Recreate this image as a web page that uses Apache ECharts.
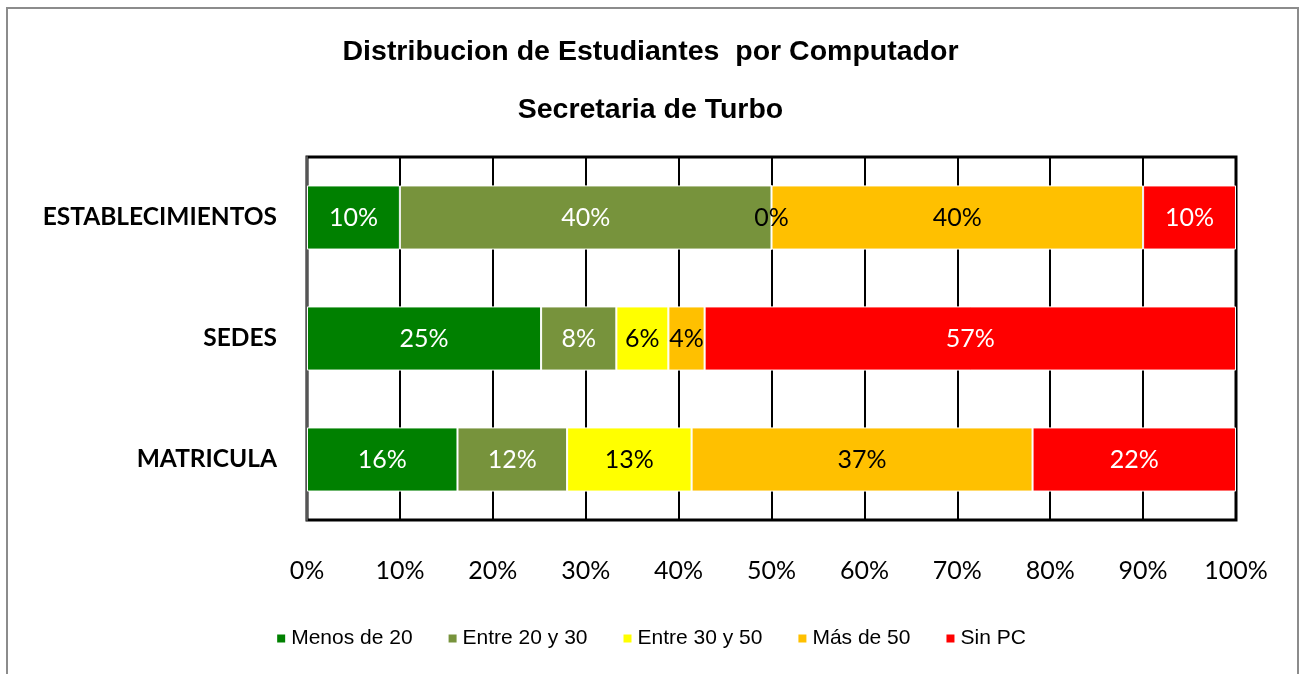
<!DOCTYPE html>
<html>
<head>
<meta charset="utf-8">
<script src="https://cdn.jsdelivr.net/npm/echarts@6/dist/echarts.min.js"></script>
<style>
  html, body { margin: 0; padding: 0; background: #fff; }
  #chart { width: 1301px; height: 674px; }
</style>
</head>
<body>
<div id="chart"></div>
<script>
// categorias (de arriba hacia abajo)
var categorias = ["ESTABLECIMIENTOS", "SEDES", "MATRICULA"];
var ejeX = [0, 10, 20, 30, 40, 50, 60, 70, 80, 90, 100];

// porcentajes por serie
var menos20 = [10, 25.2, 16.2];
var entre20y30 = [40, 8.1, 11.8];
var entre30y50 = [0, 5.6, 13.4];
var masDe50 = [40, 3.9, 36.7];
var sinPC = [10, 57.2, 21.9];

var chart = echarts.init(document.getElementById("chart"));

function serie(nombre, datos, color, colorTexto) {
  return {
    name: nombre,
    type: "bar",
    stack: "total",
    barWidth: "53%",
    data: datos,
    itemStyle: { color: color, borderColor: "#fff", borderWidth: 1 },
    label: {
      show: true,
      position: "inside",
      color: colorTexto,
      fontFamily: "Lato",
      fontSize: 25,
      formatter: function (p) { return Math.round(p.value) + "%"; }
    }
  };
}

var estiloTitulo = { fontFamily: "Liberation Sans", fontWeight: "bold", fontSize: 28.5, color: "#000" };

var option = {
  animation: false,
  title: [
    {
      text: "Distribucion de Estudiantes  por Computador",
      left: "center",
      top: 33,
      textStyle: estiloTitulo
    },
    {
      text: "Secretaria de Turbo",
      left: "center",
      top: 91,
      textStyle: estiloTitulo
    }
  ],
  graphic: [
    {
      type: "rect",
      shape: { x: 7, y: 8, width: 1291, height: 720 },
      style: { fill: "none", stroke: "#8c8c8c", lineWidth: 2 },
      silent: true
    }
  ],
  legend: {
    bottom: 20,
    left: "center",
    itemWidth: 10,
    itemHeight: 10,
    itemGap: 34,
    icon: "rect",
    textStyle: { fontFamily: "Liberation Sans", fontSize: 21, color: "#000" },
    data: ["Menos de 20", "Entre 20 y 30", "Entre 30 y 50", "Más de 50", "Sin PC"]
  },
  grid: {
    left: 307,
    right: 65,
    top: 157,
    bottom: 154,
    show: true,
    borderColor: "#000",
    borderWidth: 3
  },
  xAxis: {
    type: "value",
    min: ejeX[0],
    max: ejeX[ejeX.length - 1],
    interval: 10,
    axisLine: { show: false },
    axisTick: { show: false },
    splitLine: { show: true, lineStyle: { color: "#000", width: 2 } },
    axisLabel: {
      margin: 38,
      fontFamily: "Lato",
      fontSize: 25,
      color: "#000",
      formatter: "{value}%"
    }
  },
  yAxis: {
    type: "category",
    inverse: true,
    data: categorias,
    axisLine: { show: true, lineStyle: { color: "#555", width: 2 } },
    axisTick: { show: false },
    axisLabel: {
      margin: 30,
      fontFamily: "Lato",
      fontWeight: "bold",
      fontSize: 24.5,
      color: "#000"
    }
  },
  series: [
    serie("Menos de 20", menos20, "#008000", "#fff"),
    serie("Entre 20 y 30", entre20y30, "#77933C", "#fff"),
    serie("Entre 30 y 50", entre30y50, "#FFFF00", "#000"),
    serie("Más de 50", masDe50, "#FFC000", "#000"),
    serie("Sin PC", sinPC, "#FF0000", "#fff")
  ]
};

chart.setOption(option);
</script>
</body>
</html>
